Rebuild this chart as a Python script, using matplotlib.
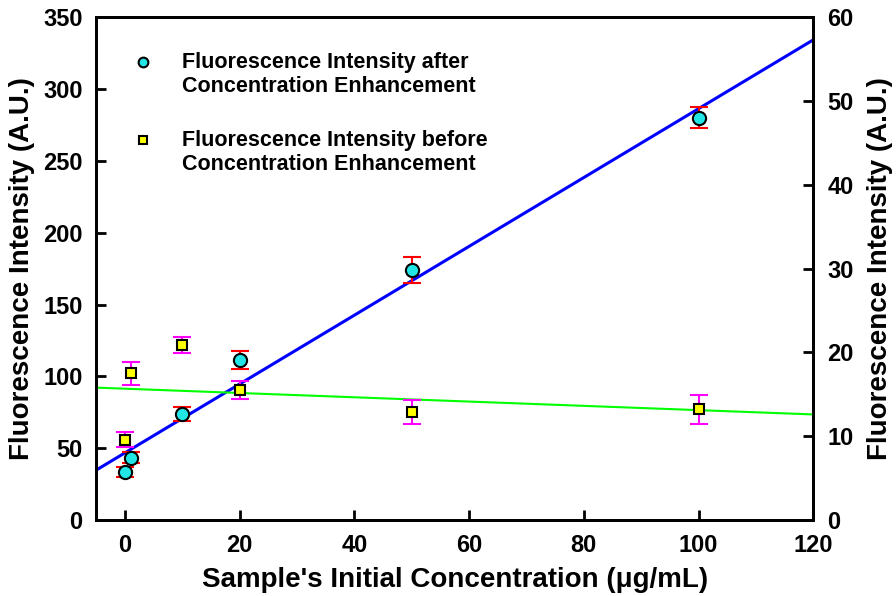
import numpy as np
import matplotlib
matplotlib.use("Agg")
import matplotlib.pyplot as plt

# data
conc = [0, 1, 10, 20, 50, 100]

# after concentration enhancement (left axis)
after_mean = [33.4, 43.4, 73.8, 111.4, 174.1, 280.0]
after_err = [3.5, 3.8, 4.9, 6.3, 9.0, 7.3]

# before concentration enhancement (right axis)
before_mean = [9.6, 17.5, 20.9, 15.5, 12.9, 13.2]
before_err = [0.9, 1.35, 1.0, 1.1, 1.4, 1.7]

# linear fit lines, end points
fit_x = [-5, 120]
fit_after = [34.8, 334.3]
fit_before = [15.8, 12.6]

plt.rcParams["font.family"] = ["Liberation Sans", "DejaVu Sans"]
plt.rcParams["font.weight"] = "bold"

fig = plt.figure(figsize=(8.96, 5.96), dpi=100)
ax = fig.add_axes([0.1075, 0.1275, 0.8002, 0.8435])
ax2 = ax.twinx()

# fit lines
ax.plot(fit_x, fit_after, color="#0000ff", lw=2.2, zorder=2)
ax2.plot(fit_x, fit_before, color="#00ff00", lw=1.5, zorder=2)

# data with error bars
ax.errorbar(conc, after_mean, yerr=after_err, fmt="o", ms=9.5,
            mfc="#22e6e6", mec="black", mew=1.5, ecolor="#ff0000",
            elinewidth=1.5, capsize=6.5, capthick=1.5, zorder=3)
ax2.errorbar(conc, before_mean, yerr=before_err, fmt="s", ms=6.5,
             mfc="#ffff00", mec="black", mew=1.5, ecolor="#ff00ff",
             elinewidth=1.5, capsize=6.5, capthick=1.5, zorder=3)

ax.set_xlim(-5, 120)
ax.set_ylim(0, 350)
ax2.set_ylim(0, 60)
ax.set_xticks(np.arange(0, 121, 20))
ax.set_yticks(np.arange(0, 351, 50))
ax2.set_yticks(np.arange(0, 61, 10))

for a in (ax, ax2):
    for s in a.spines.values():
        s.set_linewidth(2)
    a.tick_params(direction="in", length=7, width=2, labelsize=17, pad=10)
ax.tick_params(top=False, right=False)
ax2.tick_params(left=False)

ax.set_xlabel("Sample's Initial Concentration (\u03bcg/mL)", fontsize=20,
              fontweight="bold", labelpad=7)
ax.set_ylabel("Fluorescence Intensity (A.U.)", fontsize=20,
              fontweight="bold", labelpad=6)
ax2.set_ylabel("Fluorescence Intensity (A.U.)", fontsize=20,
               fontweight="bold", labelpad=10)

# legend drawn by hand to match the original layout
ax.plot([0.065], [0.911], "o", ms=7, mfc="#22e6e6", mec="black", mew=1.5,
        transform=ax.transAxes, clip_on=False)
ax.text(0.1195, 0.886, "Fluorescence Intensity after\nConcentration Enhancement",
        transform=ax.transAxes, fontsize=15.5, fontweight="bold",
        va="center", ha="left", linespacing=1.15)
ax.plot([0.065], [0.756], "s", ms=6, mfc="#ffff00", mec="black", mew=1.5,
        transform=ax.transAxes, clip_on=False)
ax.text(0.1195, 0.731, "Fluorescence Intensity before\nConcentration Enhancement",
        transform=ax.transAxes, fontsize=15.5, fontweight="bold",
        va="center", ha="left", linespacing=1.15)

fig.savefig("out.png", dpi=100)
plt.close(fig)
